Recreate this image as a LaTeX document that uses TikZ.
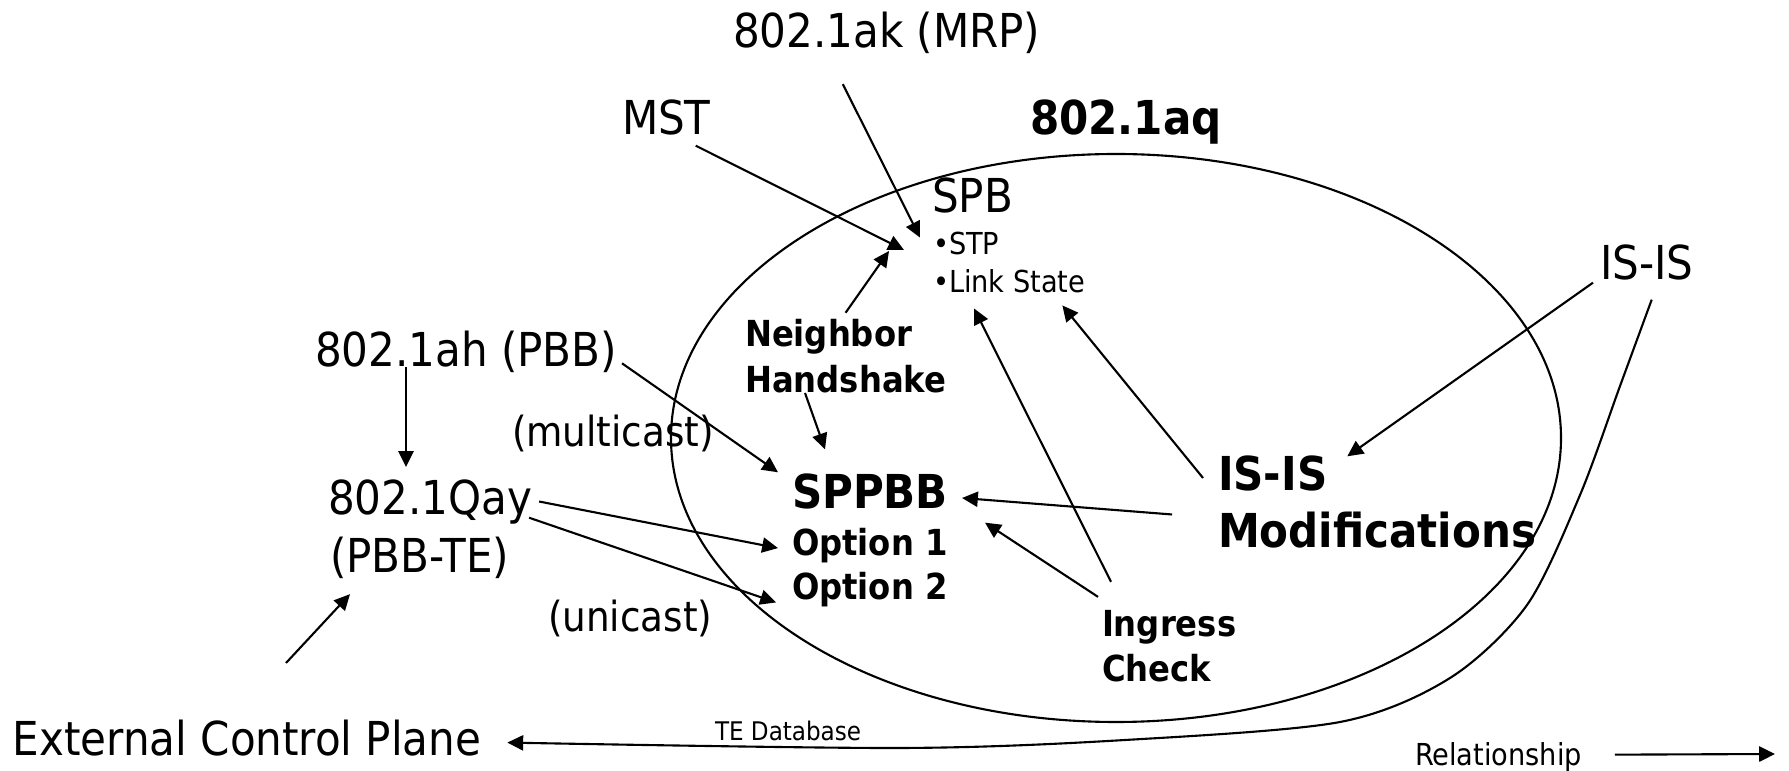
\documentclass[tikz,border=0pt]{standalone}
\usepackage{fontspec}
\setmainfont{DejaVu Sans Condensed}
\usepackage{tikz}
\usetikzlibrary{arrows.meta}
\usetikzlibrary{calc}
\tikzset{txt/.style={inner sep=0pt, outer sep=0pt, anchor=base west},
bigtext/.style={txt, font=\fontsize{13.3}{16}\selectfont},
bigbold/.style={txt, font=\fontsize{13.3}{16}\selectfont\bfseries},
midtext/.style={txt, font=\fontsize{11.8}{14}\selectfont},
midbold/.style={txt, font=\fontsize{10.2}{12}\selectfont\bfseries},
smalltext/.style={txt, font=\fontsize{8.6}{10}\selectfont},
tinytext/.style={txt, font=\fontsize{7.3}{9}\selectfont},
%filled heads as in the slide
arr/.style={-{Triangle[length=4.5pt,width=4.3pt]}}}

\begin{document}
\begin{tikzpicture}[x=0.1mm, y=-0.1mm, line width=0.6pt]
\useasboundingbox (0,0) rectangle (1789,771);
% 802.1aq
\draw (1116,438) ellipse [x radius=445, y radius=284];

% outside
\node[bigtext] (mrp) at (733,48) {802.1ak (MRP)};
\node[bigtext] (mst) at (622,135) {MST};
\node[bigbold] (aq) at (1030,135) {802.1aq};
\node[bigtext] (pbb) at (315,367) {802.1ah (PBB)};
\node[bigtext] (qay) at (328,515) {802.1Qay};
\node[bigtext] (pbbte) at (330,573) {(PBB-TE)};
\node[midtext] (mcast) at (512,447) {(multicast)};
\node[midtext] (ucast) at (548,632) {(unicast)};
\node[bigtext] (isis) at (1600,280) {IS-IS};
\node[bigtext] (ecp) at (13,756) {External Control Plane};
\node[tinytext] (tedb) at (715,741) {TE Database};
\node[smalltext] (rel) at (1415,765) {Relationship};

% inside
\node[bigtext] (spb) at (932,213) {SPB};
\node[smalltext] (stp) at (933,255) {•STP};
\node[smalltext] (lst) at (933,293) {•Link State};
\node[midbold] (nbrA) at (745,347) {Neighbor};
\node[midbold] (nbrB) at (745,393) {Handshake};
\node[bigbold] (sppbb) at (792,509) {SPPBB};
\node[midbold] (opt1) at (792,556) {Option 1};
\node[midbold] (opt2) at (792,600) {Option 2};
\node[bigbold] (modA) at (1218,491) {IS-IS};
\node[bigbold] (modB) at (1218,548) {Modifications};
\node[midbold] (ingA) at (1102,637) {Ingress};
\node[midbold] (ingB) at (1102,682) {Check};

%arrows
\draw[arr] ($(mrp.south)+(-44,30)$) -- ($(stp.north west)+(-13,5)$);
\draw[arr] ($(mst.south east)+(-15,10)$) -- ($(stp.west)+(-29,6)$);
\draw[arr] ($(nbrA.north)+(17,-7)$) -- ($(stp.west)+(-44,7)$);
\draw[arr] ($(pbb.east)+(5,11)$) -- ($(sppbb.north west)+(-14,-2)$);
\draw[arr] ($(pbb.base west)+(91,0)$) -- ($(qay.base west)+(78,-48)$);
\draw[arr] ($(qay.east)+(7,-1)$) -- ($(opt1.west)+(-14,2)$);
\draw[arr] ($(qay.south east)+(-3,-7)$) -- ($(opt2.south west)+(-16,-5)$);
\draw[arr] ($(nbrB.base west)+(60,0)$) -- ($(sppbb.north west)+(33,-25)$);
\draw[arr] ($(isis.south west)+(-7,2)$) -- ($(modA.north east)+(20,0)$);
\draw[arr] ($(modA.west)+(-15,4)$) -- ($(lst.south east)+(-23,12)$);
\draw[arr] ($(modB.north west)+(-46,2)$) -- ($(sppbb.east)+(14,6)$);
\draw[arr] ($(ingA.north west)+(9,-29)$) -- ($(lst.south west)+(41,15)$);
\draw[arr] ($(ingA.north west)+(-4,-14)$) -- ($(sppbb.south east)+(37,13)$);
\coordinate (cpTail) at (286,663);
\draw[arr] (cpTail) -- ($(pbbte.south west)+(20,15)$);
\draw[arr] plot[smooth] coordinates {($(isis.south)+(5,19)$) (1620,386) (1580,495)
  (1527,605) (1450,678) (1340,722) (1125,740) (900,748) ($(ecp.east)+(26,4)$)};

% legend
\coordinate (relTip) at (1775,754);
\draw[arr] ($(rel.east)+(33,-2)$) -- (relTip);
\end{tikzpicture}
\end{document}
